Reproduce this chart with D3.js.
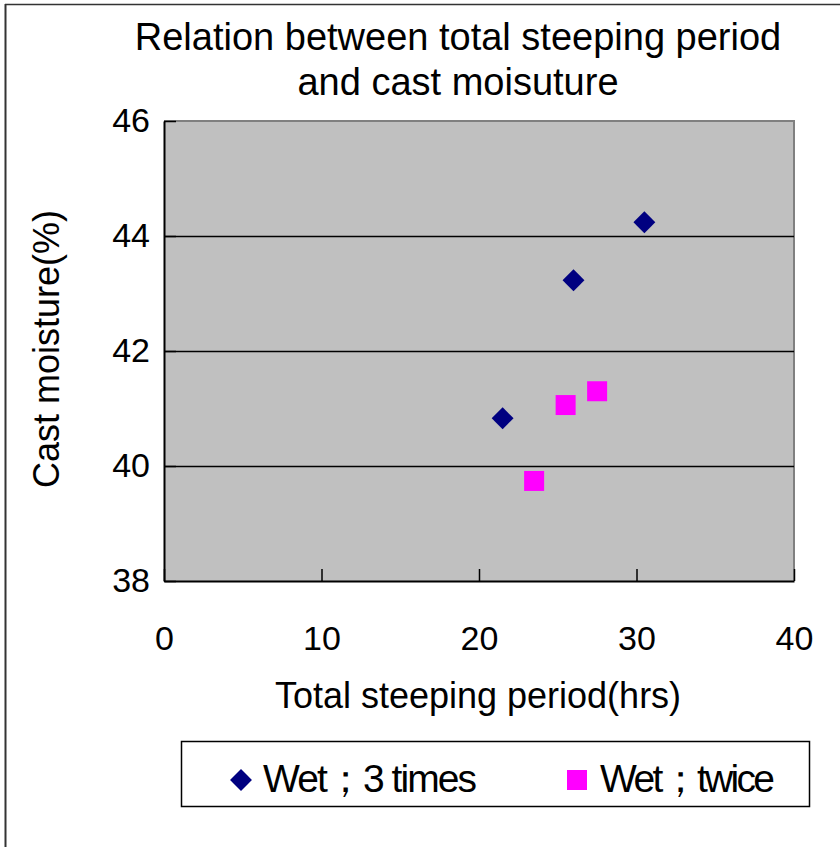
<!DOCTYPE html>
<html>
<head>
<meta charset="utf-8">
<script src="https://cdn.jsdelivr.net/npm/d3@7"></script>
<style>
  html, body { margin: 0; padding: 0; background: #fff; }
  svg { display: block; font-family: "Liberation Sans", Arial, sans-serif; }
</style>
</head>
<body>
<svg id="chart" width="840" height="847"></svg>
<script>
// Steeping experiments: total steeping period (hrs) vs. cast moisture (%)
const seriesNames = ["Wet；3 times", "Wet；twice"];
const wet3Hours = [21.5, 26.0, 30.5];
const wet3Moisture = [40.83, 43.23, 44.24];
const wet2Hours = [23.5, 25.5, 27.5];
const wet2Moisture = [39.74, 41.06, 41.30];
const xTicks = [0, 10, 20, 30, 40];
const yTicks = [38, 40, 42, 44, 46];

const svg = d3.select("#chart");
const W = 840, H = 847;
const plot = { left: 164, top: 121, right: 794, bottom: 581 };

// Outer frame (left and top edges)
svg.append("line").attr("x1", 5.5).attr("y1", 4).attr("x2", 5.5).attr("y2", H)
  .attr("stroke", "#333").attr("stroke-width", 2);
svg.append("line").attr("x1", 5).attr("y1", 4.5).attr("x2", W).attr("y2", 4.5)
  .attr("stroke", "#333").attr("stroke-width", 1.5);

const x = d3.scaleLinear().domain([0, 40]).range([plot.left, plot.right]);
const y = d3.scaleLinear().domain([38, 46]).range([plot.bottom, plot.top]);

// Plot background
svg.append("rect")
  .attr("x", plot.left).attr("y", plot.top)
  .attr("width", plot.right - plot.left).attr("height", plot.bottom - plot.top)
  .attr("fill", "#c0c0c0");

// Top and right edges of the plot area
svg.append("path")
  .attr("d", `M${plot.left},${plot.top}H${plot.right}V${plot.bottom}`)
  .attr("fill", "none").attr("stroke", "#808080").attr("stroke-width", 2);

// Horizontal gridlines
svg.append("g").selectAll("line")
  .data(yTicks.filter(t => t > 38 && t < 46))
  .join("line")
  .attr("x1", plot.left).attr("x2", plot.right)
  .attr("y1", d => Math.round(y(d)) + 0.5).attr("y2", d => Math.round(y(d)) + 0.5)
  .attr("stroke", "#000").attr("stroke-width", 1.5);

// Axes with inward ticks
const xAxis = d3.axisBottom(x).tickValues(xTicks).tickSizeInner(-12).tickSizeOuter(0);
const yAxis = d3.axisLeft(y).tickValues(yTicks).tickSizeInner(-12).tickSizeOuter(0).tickPadding(14);

const gx = svg.append("g").attr("transform", `translate(0,${plot.bottom})`).call(xAxis);
const gy = svg.append("g").attr("transform", `translate(${plot.left},0)`).call(yAxis);

[gx, gy].forEach(g => {
  g.select(".domain").attr("stroke", "#000").attr("stroke-width", 2);
  g.selectAll(".tick line").attr("stroke", "#000").attr("stroke-width", 1.5);
  g.selectAll(".tick text")
    .attr("fill", "#000")
    .style("font-family", "'Liberation Sans', Arial, sans-serif")
    .style("font-size", "34px");
});
gx.selectAll(".tick text").attr("y", 69).attr("dy", 0);

// Title
const title = svg.append("text")
  .attr("x", 458).attr("y", 50)
  .attr("text-anchor", "middle")
  .style("font-size", "38px").attr("fill", "#000");
title.append("tspan").attr("x", 458).text("Relation between total steeping period");
title.append("tspan").attr("x", 458).attr("dy", 45).text("and cast moisuture");

// Axis titles
svg.append("text")
  .attr("x", 478).attr("y", 708)
  .attr("text-anchor", "middle")
  .style("font-size", "36px").attr("fill", "#000")
  .text("Total steeping period(hrs)");

svg.append("text")
  .attr("transform", "translate(59,349) rotate(-90)")
  .attr("text-anchor", "middle")
  .style("font-size", "36px").attr("fill", "#000")
  .text("Cast moisture(%)");

// Markers
const diamond = d3.symbol().type(d3.symbolSquare).size(240);
const square = d3.symbol().type(d3.symbolSquare).size(400);

svg.append("g").selectAll("path")
  .data(d3.zip(wet3Hours, wet3Moisture))
  .join("path")
  .attr("d", diamond)
  .attr("transform", d => `translate(${x(d[0])},${y(d[1])}) rotate(45)`)
  .attr("fill", "#000080");

svg.append("g").selectAll("path")
  .data(d3.zip(wet2Hours, wet2Moisture))
  .join("path")
  .attr("d", square)
  .attr("transform", d => `translate(${x(d[0])},${y(d[1])})`)
  .attr("fill", "#ff00ff");

// Legend
const legend = svg.append("g");
legend.append("rect")
  .attr("x", 181.5).attr("y", 741.5).attr("width", 628).attr("height", 65)
  .attr("fill", "#fff").attr("stroke", "#000").attr("stroke-width", 1.5);

const legendItems = [
  { name: seriesNames[0], sym: d3.symbol().type(d3.symbolSquare).size(240), rot: 45, color: "#000080", mx: 241, tx: 263, len: 214 },
  { name: seriesNames[1], sym: d3.symbol().type(d3.symbolSquare).size(400), rot: 0, color: "#ff00ff", mx: 577, tx: 600, len: 175 }
];
legendItems.forEach(it => {
  legend.append("path")
    .attr("d", it.sym)
    .attr("transform", `translate(${it.mx},780) rotate(${it.rot})`)
    .attr("fill", it.color);
  // fit the label (with its full-width semicolon) into the legend slot
  legend.append("text")
    .attr("x", it.tx).attr("y", 792)
    .attr("textLength", it.len).attr("lengthAdjust", "spacing")
    .style("font-size", "39px").attr("fill", "#000")
    .text(it.name);
});
</script>
</body>
</html>
